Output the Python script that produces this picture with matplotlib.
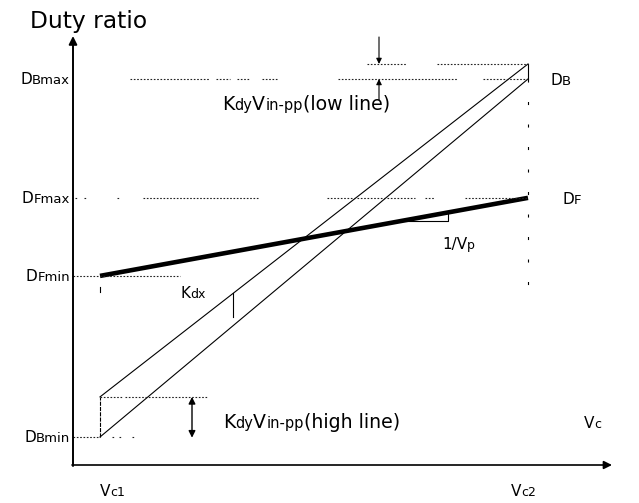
import matplotlib
matplotlib.use('Agg')
import matplotlib.pyplot as plt

plt.rcParams['font.family'] = ['DejaVu Sans']
plt.rcParams['lines.scale_dashes'] = False

# ---------------- data (normalized schematic values) ----------------
vc_pos = [0.0, 1.0]                 # Vc1, Vc2
vc_labels = [('V', 'c1'), ('V', 'c2')]
DB_min, DB_max = 0.0, 1.0           # boost duty limits
DF_min, DF_max = 0.450, 0.668       # forward duty limits
kdy_high = 0.112                    # Kdy*Vin-pp at high line
kdy_low = 0.042                     # Kdy*Vin-pp at low line
db_lower = [DB_min, DB_max]
db_upper = [DB_min + kdy_high, DB_max + kdy_low]
df_line = [DF_min, DF_max]

# ---------------- layout ----------------
W, H = 639, 503
fig = plt.figure(figsize=(W / 100, H / 100), dpi=100)
ax = fig.add_axes([0, 0, 1, 1])
X0, SX = 100, 428
Y0, SY = 437, 358
def px(x): return (x - X0) / SX
def py(y): return (Y0 - y) / SY
ax.set_xlim(px(0), px(W))
ax.set_ylim(py(H), py(0))
ax.axis('off')

K = 'black'

def arrow(p0, p1, style='-|>', lw=1.0, ms=10):
    ax.annotate('', xy=p1, xytext=p0,
                arrowprops=dict(arrowstyle=style, lw=lw, color=K,
                                shrinkA=0, shrinkB=0, mutation_scale=ms))

# axes
arrow((px(73), py(466)), (px(73), py(36)), lw=1.4, ms=12)
arrow((px(72), py(465)), (px(612), py(465)), lw=1.2, ms=12)

# main curves
ax.plot(vc_pos, db_lower, color=K, lw=0.8)
ax.plot(vc_pos, db_upper, color=K, lw=0.8)
ax.plot(vc_pos, df_line, color=K, lw=3.3, solid_capstyle='butt')
ax.plot([vc_pos[0]] * 2, [db_lower[0], db_upper[0]], color=K, lw=0.8,
        ls=(0, (3, 0.8)))
ax.plot([vc_pos[1]] * 2, [db_lower[1], db_upper[1]], color=K, lw=0.8)

# dotted guide lines
dot = dict(color='#222222', lw=0.8, ls=(0, (1.2, 1.2)))
def hdots(yval, segs):
    for a, b in segs:
        ax.plot([px(a), px(b)], [yval, yval], **dot)

hdots(DB_max, [(130, 210), (216, 230), (237, 250), (262, 278), (338, 458), (483, 528)])
hdots(DB_max + kdy_low, [(367, 407), (437, 528)])
hdots(DF_max, [(75, 77), (84, 86), (117, 119), (143, 258), (327, 415), (425, 435), (465, 528)])
hdots(DF_min, [(73, 180)])
hdots(DB_min, [(73, 100), (112, 114), (119, 121), (132, 134)])
hdots(DB_min + kdy_high, [(100, 122), (125, 207)])

# sparse dashed vertical at Vc2
ax.plot([vc_pos[1]] * 2, [DB_max, py(285)], color=K, lw=0.8, ls=(0, (2.2, 14)))
# small tick under Vc1
ax.plot([vc_pos[0]] * 2, [py(287), py(292)], color=K, lw=0.8)

# Kdx marker
def upper(x): return db_upper[0] + (db_upper[1] - db_upper[0]) * x
def dfv(x): return df_line[0] + (df_line[1] - df_line[0]) * x
xk = px(233)
ax.plot([xk, xk], [upper(xk), py(317)], color=K, lw=0.8)

# 1/Vp slope triangle
xa, xb = px(402), px(448)
ax.plot([xa, xb, xb], [dfv(xa), dfv(xa), dfv(xb)], color=K, lw=0.8)

# Kdy arrows
arrow((px(192), DB_min + kdy_high), (px(192), DB_min - 0.002), style='<|-|>', lw=1.0, ms=10)
arrow((px(379), py(37)), (px(379), DB_max + kdy_low), lw=0.8, ms=8)
arrow((px(379), py(100)), (px(379), DB_max), lw=0.8, ms=8)

# ---------------- text ----------------
renderer = fig.canvas.get_renderer()
def label(x_px, base_px, parts, ha='left', gap=0.0):
    items = []
    for s, size in parts:
        t = ax.text(0, py(base_px), s, fontsize=size, va='baseline', ha='left', color=K)
        w = t.get_window_extent(renderer).width
        items.append((t, w))
    total = sum(w for _, w in items) + gap * (len(items) - 1)
    cur = x_px - total if ha == 'right' else x_px
    for t, w in items:
        t.set_x(px(cur))
        cur += w + gap

M, S = 11, 9.5
ax.text(px(30), py(28), 'Duty ratio', fontsize=16.8, va='baseline', ha='left', color=K)

def ybase(v, off=5):  # baseline pixel for label centred on data level v
    return Y0 - v * SY + off

label(70, ybase(DB_max), [('D', M), ('Bmax', S)], ha='right')
label(70, ybase(DF_max), [('D', M), ('Fmax', S)], ha='right')
label(70, ybase(DF_min), [('D', M), ('Fmin', S)], ha='right')
label(70, ybase(DB_min), [('D', M), ('Bmin', S)], ha='right')

label(550, ybase(DB_max, 6), [('D', M), ('B', S)])
label(562, ybase(DF_max, 6), [('D', M), ('F', S)])

for xv, (a, b) in zip(vc_pos, vc_labels):
    label(X0 + xv * SX - (0 if xv == 0 else 17), 496, [(a, M), (b, 9)])
label(584, 428, [('V', M), ('c', 9)])

label(180, 298, [('K', M), ('dx', 9)])
label(442, 249, [('1/V', M), ('p', 9)])

KM, KS = 13.6, 10.5
label(222, 110, [('K', KM), ('dy', KS), ('V', KM), ('in-pp', KS), ('(low line)', KM)])
label(223, 428, [('K', KM), ('dy', KS), ('V', KM), ('in-pp', KS), ('(high line)', KM)])

fig.savefig('out.png', dpi=100)
